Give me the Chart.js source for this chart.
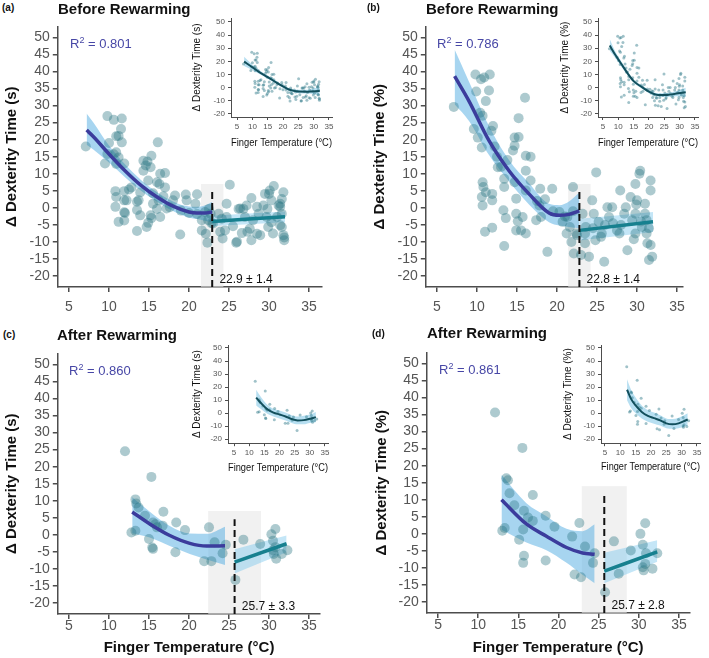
<!DOCTYPE html>
<html>
<head>
<meta charset="utf-8">
<script src="https://cdn.jsdelivr.net/npm/chart.js@4.4.1/dist/chart.umd.min.js"></script>
<style>
  body { margin: 0; background: #fff; }
  #page { position: relative; width: 709px; height: 658px; overflow: hidden; font-family: "Liberation Sans", Arial, Helvetica, sans-serif; }
  canvas { position: absolute; }
  .tag { position: absolute; font-size: 10px; font-weight: bold; color: #111; }
  .ttl { position: absolute; font-size: 15px; font-weight: bold; color: #111; white-space: nowrap; line-height: 18px; }
  .r2 { position: absolute; font-size: 13px; color: #4747a6; white-space: nowrap; line-height: 16px; }
  .r2 span { font-size: 9px; position: relative; top: -5px; }
</style>
</head>
<body>
<div id="page">
  <canvas id="mainA" width="340" height="305" style="left:0px;top:15px"></canvas>
  <canvas id="mainB" width="341" height="305" style="left:368px;top:15px"></canvas>
  <canvas id="mainC" width="340" height="316" style="left:0px;top:342px"></canvas>
  <canvas id="mainD" width="339" height="317" style="left:370px;top:341px"></canvas>
  <canvas id="insetA" width="150" height="142" style="left:189px;top:8px"></canvas>
  <canvas id="insetB" width="150" height="142" style="left:557px;top:8px"></canvas>
  <canvas id="insetC" width="150" height="140" style="left:189px;top:335px"></canvas>
  <canvas id="insetD" width="148" height="139" style="left:560px;top:335px"></canvas>

  <div class="tag" style="left:2px;top:2px">(a)</div>
  <div class="ttl" style="left:58px;top:0px">Before Rewarming</div>
  <div class="tag" style="left:367px;top:2px">(b)</div>
  <div class="ttl" style="left:426px;top:0px">Before Rewarming</div>
  <div class="tag" style="left:3px;top:329px">(c)</div>
  <div class="ttl" style="left:57px;top:326px">After Rewarming</div>
  <div class="tag" style="left:372px;top:328px">(d)</div>
  <div class="ttl" style="left:427px;top:324px">After Rewarming</div>

  <div class="r2" style="left:70px;top:36px">R<span>2</span> = 0.801</div>
  <div class="r2" style="left:437px;top:36px">R<span>2</span> = 0.786</div>
  <div class="r2" style="left:69px;top:363px">R<span>2</span> = 0.860</div>
  <div class="r2" style="left:439px;top:362px">R<span>2</span> = 0.861</div>
</div>
<script>
// tick labels
const xTicks = [5, 10, 15, 20, 25, 30, 35];
const yTicksMain = [-20, -15, -10, -5, 0, 5, 10, 15, 20, 25, 30, 35, 40, 45, 50];
const yTicksInset = [-20, -10, 0, 10, 20, 30, 40, 50];

// (a) before rewarming, seconds
const aTemp = [7.1,9.8,10.6,11.6,11.5,10.9,11.2,11.6,10,9.8,
  9.5,10.6,10.9,10.9,11.2,11.9,10.8,10.9,11.9,11.9,
  12.8,12.2,10.8,11.2,11.9,11.9,12,12.5,13.5,13.7,
  13.5,13.9,13.5,14.7,14.9,15.3,13.9,14.3,14.6,14.8,
  15.3,15.2,14.3,16.1,16.4,17,16,16.3,17,14.9,
  15.5,16.8,18,18.25,17.2,17.6,16,16.4,15.2,18.9,
  15.5,16.2,19.7,19.6,20.8,21,21.6,21.6,22.1,22,
  22.3,22.7,22.4,19,20,21,22.5,22.8,25.1,23.7,
  23.9,24.2,24.7,24.7,25.9,25.5,26.4,27.2,27,28,
  28.5,29.3,29.5,30.1,30.6,30.3,29.7,29.9,30.5,31.4,
  31.8,31.6,31.6,31.9,31.9,31.4,28.5,27.3,24.5,26,
  26.2,26.6,27.8,27.6,28.9,29.8,30,31.6,31,30.3,
  31.4,31.8,24.1,23,27.8,31.2,26.8,28.7];
const aDelta = [18,26.9,25.8,26.2,23.1,21,21.1,19.2,19,15.8,
  13,15.7,16.3,12.9,14.8,13,4.9,3.2,4.9,2.2,
  6,2.2,0.3,-4.1,-1.3,-3.7,-1.5,5.4,1.8,2.2,
  -0.6,-2.2,-6.8,-5.6,-4.4,-3,4.5,10.9,12.4,13.6,
  15.3,11.9,13.8,19.2,10,10.2,7.5,7,6,8,
  4.3,3.4,2.2,3.6,-0.2,0.2,-0.3,-2.7,-2.2,-7.8,
  1.2,2.2,2.2,3.9,1.2,4,-3.6,-6.6,-7.6,-1.2,
  -10.2,-1.7,-3.6,-0.8,-1.5,-1.8,-0.3,-4.5,6.8,-1.7,
  -7,-9,1.2,-2.7,-10.2,-5.4,-0.2,0.7,-2.7,-3.6,
  0.3,0.7,4.1,5.1,6.4,2.2,-2.7,-5.6,-7.5,1.2,
  4.6,-1.7,-5.6,-8.7,-9.5,0.3,-7.6,-7,-6.6,-9.9,
  -0.3,-7.4,2.9,-6.1,-8,-0.3,4.1,2.6,-2.7,-4.2,
  -5.1,-8,-3.2,-4.6,-9.5,0.7,-0.3,-1.7];
const aFitTemp = [7.2, 8, 10, 12, 14, 16, 18, 20, 21, 22, 22.9];
const aFit   = [22.8, 21, 15.8, 10.9, 6.6, 3.2, 0.5, -1.2, -1.5, -1.5, -1.2];
const aFitLo = [18.5, 17.2, 13.3, 9, 5, 1.8, -0.9, -2.8, -3.3, -3.8, -4.3];
const aFitHi = [27.7, 25.2, 18.3, 12.8, 8.2, 4.6, 1.9, 0.4, 0.3, 0.7, 1.8];
const aLinTemp = [22.9, 32];
const aLin   = [-4, -2.6];
const aLinLo = [-5.3, -4.2];
const aLinHi = [-2.3, -1.1];
const aInsetTemp = [7.3, 10, 12, 15, 18, 20, 22, 25, 28, 32];
const aInset   = [19.8, 15.5, 12.2, 8, 3.7, 0.9, -1.5, -2.9, -3, -2.5];
const aInsetLo = [16.5, 13.5, 10.8, 6.8, 2.6, -0.2, -2.6, -4.2, -4.5, -5.5];
const aInsetHi = [23.5, 17.5, 13.6, 9.2, 4.8, 2, -0.4, -1.6, -1.5, 0.5];

// (b) before rewarming, percent
const bTemp = [7.1,9.8,10.5,10.9,11.6,9.9,11.1,11.5,10.4,10.7,
  11.8,9.6,10.1,10.6,10.7,10.8,11.1,10.6,11.9,11.9,
  10.7,11,11.9,12.6,13.4,13.4,13.3,13.6,13.4,14.5,
  14.7,14.7,15.2,15.2,14.7,14.9,14.9,14.9,15.1,16,
  16.1,16.7,16.1,16.7,16.1,15.7,16.1,15.5,17.9,17.8,
  17.4,18,18.8,19.4,20.3,20.7,21.3,21.2,22,21.6,
  21.8,22.1,22.4,22.5,23,23.2,23.6,23.5,24,24.4,
  24.8,24.9,24.6,25.2,25.6,25.9,26.3,26.5,26.9,27.5,
  27.8,27.9,28.4,28.6,28.8,29.2,29.4,29.6,29.8,29.8,
  29.9,30,30.3,30.4,29.8,30.6,31,31,31.2,31.3,
  31.7,31.7,31.7,31.5,31.9,31.2,
  12.5,13,17.5,19.5,21,22,24.5,26,27,28,
  30.5,31.5,23.5,25.5,12.2,12,13.8,18.5];
const bDelta = [29.6,39.1,37.7,38.2,39.1,34.1,31.3,34.4,27.9,27,
  22.6,23.1,20.6,17.7,7.5,6.1,4.6,3.2,4.1,2.2,
  0.7,-7,-5.8,11.9,8.5,6.1,-0.7,-3,-11.2,16.8,
  18.2,20.6,20.8,26.3,7.5,2.7,-1.7,-6.6,-3.9,32.3,
  15.3,15,10.9,8,5.1,-2.7,-7.5,-6.6,5.6,0.7,
  -3.6,-2.7,-12.9,5.6,-1.2,-4.1,-2.7,-7.5,6.1,-5.6,
  -10,-13.4,-7.5,-8,-13.8,-1.7,-5.6,-10.4,-14.3,2.2,
  -9.5,10.4,-1.7,-4.1,-7.5,-15.8,0.2,-2.7,0.2,-6.6,
  -7.5,5.1,-1.7,0.2,-12.4,3.2,-3.6,-9.2,7,-1.7,
  1,2.2,10,10.9,-7.5,-5.6,1.2,-1.7,-7.5,-10.4,
  8,5.1,-10.9,-15.3,-14.3,-3.6,
  15,12,2,-1,-2.5,-1,-6,-5,-4.5,-5,
  -4,-6,-7.5,-8.5,18,24,14,2.5];
const bFitTemp = [7.2, 9, 11.5, 14, 16.5, 19, 20.3, 21.5, 22.8];
const bFit   = [38.6, 31.3, 19.7, 10.9, 4.1, -1.5, -2.2, -1.9, -0.9];
const bFitLo = [30.4, 25.5, 15.5, 7.8, 1, -4.2, -5.2, -5.6, -6];
const bFitHi = [46.4, 37, 24, 14, 7.2, 1.2, 0.8, 1.9, 4.5];
const bLinTemp = [22.8, 32];
const bLin   = [-6.6, -4.1];
const bLinLo = [-9.6, -7.1];
const bLinHi = [-3.2, -1.2];
const bInsetTemp = [7.2, 9, 11, 13, 15, 18, 20, 23, 26, 29, 32];
const bInset   = [32, 25, 18, 11, 5, 0, -3, -5.5, -5.5, -4.5, -3.5];
const bInsetLo = [28, 22.5, 16, 9.5, 3.8, -1.2, -4.2, -6.8, -7, -6.5, -7];
const bInsetHi = [37, 27.5, 20, 12.5, 6.2, 1.2, -1.8, -4.2, -4, -2.5, 0];

// (c) after rewarming, seconds
const cTemp = [12,15.3,12.8,13.3,13.4,13.7,13.3,14.5,15,15.5,
  15.5,15.8,16,16.8,16.7,18.4,18.3,19.5,21.9,22.5,
  22.8,23.2,24.2,24.6,25.8,26.8,28.9,30.3,30.5,30.6,
  30.8,30.8,30.9,31.6,32.3,30.5,15.4];
const cDelta = [24.5,17,0.7,10.4,9.2,8,1.2,5.6,-1.2,3.6,
  -4.1,3.1,2.2,6.8,2.7,3.6,-5.1,1.4,-7.7,2.2,
  -7.7,-2.2,-5.4,-2.9,-13.2,-1.4,-2.7,0.2,-1.7,-5.6,
  1.7,-3.6,-7,-5.6,-4.5,-4.5,-3.7];
const cFitTemp = [12.9, 15.1, 17.6, 20.1, 22.2, 24.5];
const cFit   = [6.7, 3.2, -0.2, -2.5, -3.3, -3.2];
const cFitLo = [0.5, -0.8, -3.3, -5.6, -7.2, -8.8];
const cFitHi = [11, 6.8, 2.6, 0.4, 0.3, 2.4];
const cLinTemp = [25.7, 32.2];
const cLin   = [-8, -2.6];
const cLinLo = [-11.3, -5.1];
const cLinHi = [-4.2, -0.2];
const cInsetTemp = [12.3, 14, 16, 18, 20, 22, 24, 26, 28, 30, 32];
const cInset   = [12, 7.5, 3, 0.5, -1, -2.5, -4.5, -5.5, -5.3, -4.3, -3];
const cInsetLo = [6, 3, -0.5, -2.5, -4, -5.5, -7.5, -8.5, -8.5, -7.5, -7];
const cInsetHi = [18, 12, 6.5, 3.5, 2, 0.5, -1.5, -2.5, -2, -1, 1];

// (d) after rewarming, percent
const dTemp = [12.1,15.5,13.5,13.7,13.9,14.5,13.3,13,15.1,15.7,
  15.6,15.7,15.6,16.2,16.8,16.8,18.4,18.4,19.5,21.7,
  22,22.6,22.8,23.3,24.3,24.5,25.8,26.9,27.5,29,
  30.2,30.5,30.8,30.5,30.6,30.8,30.9,31.7,32.3];
const dDelta = [35.6,25.2,16.3,15.7,11.9,8.4,1.7,0.9,-1.7,6.8,
  1.3,-6.4,-8.5,4.8,11.4,3.8,5.3,-7.8,2.1,-0.8,
  -11.9,3.2,-12.7,-3.7,-8.5,-5.7,-17.1,-2.2,-11.7,-4.9,
  0,-3.2,3.1,-9.8,-10.7,-8.8,-5.7,-10.2,-5.7];
const dFitTemp = [12.9, 16, 18.5, 21, 23, 24.5];
const dFit   = [10, 2.9, -0.7, -4, -5.6, -6];
const dFitLo = [1.2, -2.5, -4.8, -8.5, -12, -14.5];
const dFitHi = [17.3, 9, 5.2, 1.5, 0.8, 2.8];
const dLinTemp = [25.7, 32.3];
const dLin   = [-10.9, -5.3];
const dLinLo = [-14.5, -8.2];
const dLinHi = [-5.5, -1.9];
const dInsetTemp = [12.2, 13.5, 15, 17, 19, 21, 23, 25, 27, 29, 32];
const dInset   = [18, 11, 6, 1, -2, -3.8, -5.5, -7.8, -8.5, -7.8, -4.8];
const dInsetLo = [10, 4, 0, -4, -6.5, -8, -9.5, -11.5, -12, -11.5, -9.5];
const dInsetHi = [26, 18, 12, 6, 2.5, 0.5, -1.5, -4, -4.5, -3.5, 0];

Chart.defaults.font.family = '"Liberation Sans", Arial, Helvetica, sans-serif';

const axisGray = '#4d4d4d';
const purple = '#3b3c9c';
const teal = '#17808f';
const dotColor = 'rgba(40,115,128,0.38)';

function pts(xs, ys) {
  return xs.map((x, i) => ({ x: x, y: ys[i] }));
}

function band(xs, lo, hi, color) {
  return [
    { type: 'line', data: pts(xs, hi), borderColor: 'transparent', borderWidth: 0, pointRadius: 0,
      fill: false, cubicInterpolationMode: 'monotone', order: 3 },
    { type: 'line', data: pts(xs, lo), borderColor: 'transparent', borderWidth: 0, pointRadius: 0,
      fill: '-1', backgroundColor: color, cubicInterpolationMode: 'monotone', order: 3 }
  ];
}

function curve(xs, ys, color, width) {
  return { type: 'line', data: pts(xs, ys), borderColor: color, borderWidth: width, pointRadius: 0,
    fill: false, cubicInterpolationMode: 'monotone', order: 1 };
}

function scaleOpts(o) {
  return {
    type: 'linear', min: o.min, max: o.max,
    afterBuildTicks: s => { s.ticks = o.ticks.map(v => ({ value: v })); },
    afterFit: s => { if (o.horizontal) s.height = o.size; else s.width = o.size; },
    grid: { display: true, drawOnChartArea: false, drawTicks: true, tickLength: o.tickLen, color: axisGray, lineWidth: o.lw },
    border: { display: true, color: axisGray, width: o.lw },
    ticks: { color: '#555', font: { size: o.font }, padding: o.pad, autoSkip: false, maxRotation: 0 },
    title: o.title ? { display: true, text: o.title, color: '#111',
      font: { size: o.titleSize, weight: o.bold ? 'bold' : 'normal' },
      padding: { top: o.titlePad, bottom: 1 } } : { display: false }
  };
}

// shaded breakpoint interval, dashed breakpoint line and its label
const breakPlugin = {
  id: 'breakpoint',
  beforeDatasetsDraw(chart, args, o) {
    const { ctx, scales: { x, y } } = chart;
    const l = x.getPixelForValue(o.at - o.se), r = x.getPixelForValue(o.at + o.se);
    const t = y.getPixelForValue(o.shadeTop);
    ctx.save();
    ctx.fillStyle = 'rgba(232,232,232,0.6)';
    ctx.fillRect(l, t, r - l, y.bottom - t);
    ctx.restore();
  },
  afterDatasetsDraw(chart, args, o) {
    const { ctx, scales: { x, y } } = chart;
    const px = x.getPixelForValue(o.at);
    ctx.save();
    ctx.strokeStyle = '#111';
    ctx.lineWidth = 2;
    ctx.setLineDash([7, 4]);
    ctx.beginPath();
    ctx.moveTo(px, y.bottom);
    ctx.lineTo(px, y.getPixelForValue(o.lineTop));
    ctx.stroke();
    ctx.setLineDash([]);
    ctx.fillStyle = '#111';
    ctx.font = '12px "Liberation Sans", Arial, sans-serif';
    ctx.textAlign = 'left';
    ctx.textBaseline = 'middle';
    ctx.fillText(o.at.toFixed(1) + ' \u00b1 ' + o.se.toFixed(1), x.getPixelForValue(o.at + 0.9), y.getPixelForValue(-21));
    ctx.restore();
  }
};

function mainChart(id, p) {
  new Chart(document.getElementById(id), {
    type: 'scatter',
    data: {
      datasets: [
        curve(p.fitX, p.fit, purple, 3.5),
        curve(p.linX, p.lin, teal, 3.5),
        { type: 'scatter', data: pts(p.x, p.y), pointRadius: 5, backgroundColor: dotColor, borderWidth: 0, order: 2 },
        ...band(p.fitX, p.fitLo, p.fitHi, 'rgba(95,178,228,0.55)'),
        ...band(p.linX, p.linLo, p.linHi, 'rgba(125,200,238,0.45)')
      ]
    },
    options: {
      responsive: false, animation: false, events: [],
      layout: { padding: { left: 0, top: 10, right: p.padRight, bottom: 0 } },
      plugins: { legend: { display: false }, tooltip: { enabled: false }, breakpoint: p.bp },
      scales: {
        x: scaleOpts({ min: 3.6, max: p.xMax, ticks: xTicks, horizontal: true, size: p.xSize, tickLen: 5, lw: 1.5,
          font: 14, pad: p.xPad, title: p.xTitle, titleSize: 15, bold: true, titlePad: 1 }),
        y: scaleOpts({ min: -23.2, max: 53.2, ticks: yTicksMain, horizontal: false, size: p.ySize, tickLen: 5, lw: 1.5,
          font: 14, pad: 3, title: p.yTitle, titleSize: 15, bold: true, titlePad: 3 })
      }
    },
    plugins: [breakPlugin]
  });
}

function insetChart(id, p) {
  new Chart(document.getElementById(id), {
    type: 'scatter',
    data: {
      datasets: [
        curve(p.fitX, p.fit, '#124f5c', 2),
        { type: 'scatter', data: pts(p.x, p.y), pointRadius: 1.5, backgroundColor: 'rgba(45,120,135,0.45)', borderWidth: 0, order: 2 },
        ...band(p.fitX, p.fitLo, p.fitHi, 'rgba(95,185,225,0.45)')
      ]
    },
    options: {
      responsive: false, animation: false, events: [],
      layout: { padding: { left: 0, top: 10, right: p.padRight, bottom: 0 } },
      plugins: { legend: { display: false }, tooltip: { enabled: false } },
      scales: {
        x: scaleOpts({ min: p.xMin, max: 36, ticks: xTicks, horizontal: true, size: p.xSize, tickLen: 3, lw: 1,
          font: 8, pad: 2, title: 'Finger Temperature (\u00b0C)', titleSize: 10, bold: false, titlePad: 1 }),
        y: scaleOpts({ min: p.yMin, max: p.yMax, ticks: yTicksInset, horizontal: false, size: p.ySize, tickLen: 3, lw: 1,
          font: 8, pad: 3, title: p.yTitle, titleSize: 10, bold: false, titlePad: 2 })
      }
    }
  });
}

const xLabel = 'Finger Temperature (\u00b0C)';
const ySec = '\u0394 Dexterity Time (s)';
const yPct = '\u0394 Dexterity Time (%)';

mainChart('mainA', { x: aTemp, y: aDelta, fitX: aFitTemp, fit: aFit, fitLo: aFitLo, fitHi: aFitHi,
  linX: aLinTemp, lin: aLin, linLo: aLinLo, linHi: aLinHi, xMax: 36.6, padRight: 18.2, ySize: 57.8, xSize: 33, xPad: 7,
  yTitle: ySec, xTitle: null, bp: { at: 22.9, se: 1.4, shadeTop: 7, lineTop: 5 } });
mainChart('mainB', { x: bTemp, y: bDelta, fitX: bFitTemp, fit: bFit, fitLo: bFitLo, fitHi: bFitHi,
  linX: bLinTemp, lin: bLin, linLo: bLinLo, linHi: bLinHi, xMax: 35.7, padRight: 26.4, ySize: 57.8, xSize: 33, xPad: 7,
  yTitle: yPct, xTitle: null, bp: { at: 22.8, se: 1.4, shadeTop: 7, lineTop: 5 } });
mainChart('mainC', { x: cTemp, y: cDelta, fitX: cFitTemp, fit: cFit, fitLo: cFitLo, fitHi: cFitHi,
  linX: cLinTemp, lin: cLin, linLo: cLinLo, linHi: cLinHi, xMax: 36.4, padRight: 19.8, ySize: 57.8, xSize: 44, xPad: -1,
  yTitle: ySec, xTitle: xLabel, bp: { at: 25.7, se: 3.3, shadeTop: 7, lineTop: 4.6 } });
mainChart('mainD', { x: dTemp, y: dDelta, fitX: dFitTemp, fit: dFit, fitLo: dFitLo, fitHi: dFitHi,
  linX: dLinTemp, lin: dLin, linLo: dLinLo, linHi: dLinHi, xMax: 36.3, padRight: 19.6, ySize: 56.8, xSize: 45, xPad: -1,
  yTitle: yPct, xTitle: xLabel, bp: { at: 25.7, se: 2.8, shadeTop: 14, lineTop: 12 } });

insetChart('insetA', { x: aTemp, y: aDelta, fitX: aInsetTemp, fit: aInset, fitLo: aInsetLo, fitHi: aInsetHi,
  xMin: 3.02, yMin: -22.3, yMax: 53, padRight: 7, ySize: 42, xSize: 33, yTitle: ySec });
insetChart('insetB', { x: bTemp, y: bDelta, fitX: bInsetTemp, fit: bInset, fitLo: bInsetLo, fitHi: bInsetHi,
  xMin: 3.37, yMin: -22.3, yMax: 53, padRight: 9, ySize: 41, xSize: 33, yTitle: yPct });
insetChart('insetC', { x: cTemp, y: cDelta, fitX: cInsetTemp, fit: cInset, fitLo: cInsetLo, fitHi: cInsetHi,
  xMin: 3.02, yMin: -23, yMax: 52.3, padRight: 11, ySize: 39, xSize: 31.8, yTitle: ySec });
insetChart('insetD', { x: dTemp, y: dDelta, fitX: dInsetTemp, fit: dInset, fitLo: dInsetLo, fitHi: dInsetHi,
  xMin: 3.7, yMin: -23, yMax: 52.3, padRight: 8, ySize: 41, xSize: 30.8, yTitle: yPct });
</script>
</body>
</html>
